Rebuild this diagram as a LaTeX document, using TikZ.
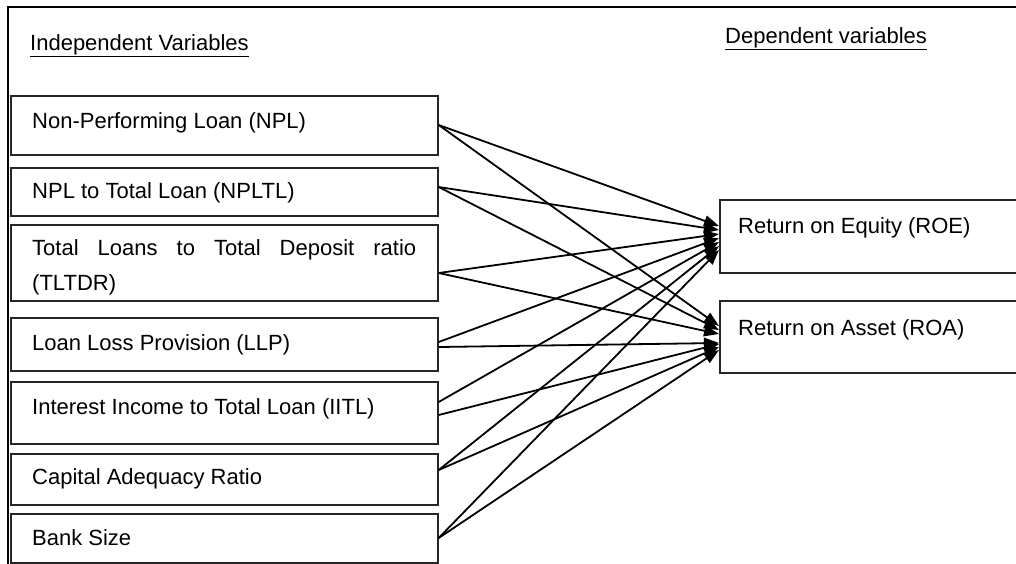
\documentclass[tikz,border=0pt]{standalone}
\usepackage{fontspec}
\setmainfont{Liberation Sans}
\usetikzlibrary{arrows.meta}
\begin{document}
\begin{tikzpicture}[x=1pt,y=-1pt,
  box/.style={draw=black!85,line width=1.7pt,inner sep=0pt,anchor=north west,rectangle},
  lbl/.style={anchor=base west,inner sep=0pt,font=\fontsize{22}{26}\selectfont},
  arr/.style={line width=1.8pt,-{Triangle[length=15pt,width=11pt]}}]
\useasboundingbox (0,0) rectangle (1016,563);
% frame
\draw[line width=1.5pt] (1030,7) -- (8,7) -- (8,570);
% headers
\node[lbl] (h1) at (30,50) {\underline{Independent Variables}};
\node[lbl] (h2) at (725,43) {\underline{Dependent variables}};
% left boxes
\node[box,minimum width=427pt,minimum height=59pt] (b1) at (10,95) {};
\node[box,minimum width=427pt,minimum height=48pt] (b2) at (10,167) {};
\node[box,minimum width=427pt,minimum height=76pt] (b3) at (10,224) {};
\node[box,minimum width=427pt,minimum height=53pt] (b4) at (10,317) {};
\node[box,minimum width=427pt,minimum height=62pt] (b5) at (10,381) {};
\node[box,minimum width=427pt,minimum height=51pt] (b6) at (10,453) {};
\node[box,minimum width=427pt,minimum height=49pt] (b7) at (10,513) {};
\node[lbl] (t1) at (32,128) {Non-Performing Loan (NPL)};
\node[lbl] (t2) at (32,198) {NPL to Total Loan (NPLTL)};
\node[lbl,align=left] (t3) at (32,255) {\makebox[384pt][s]{Total Loans to Total Deposit ratio}};
\node[lbl] (t3b) at (32,290) {(TLTDR)};
\node[lbl] (t4) at (32,350) {Loan Loss Provision (LLP)};
\node[lbl] (t5) at (32,414) {Interest Income to Total Loan (IITL)};
\node[lbl] (t6) at (32,484) {Capital Adequacy Ratio};
\node[lbl] (t7) at (32,545) {Bank Size};
% right boxes (extend past the right margin)
\node[box,minimum width=310pt,minimum height=73pt] (roe) at (719,199) {};
\node[box,minimum width=310pt,minimum height=72pt] (roa) at (719,300) {};
\node[lbl] (tr1) at (738,233) {Return on Equity (ROE)};
\node[lbl] (tr2) at (738,335) {Return on Asset (ROA)};
% connectors
\draw[arr] (b1.east |- 0,125) -- (roe.west |- 0,226);
\draw[arr] (b1.east |- 0,125) -- (roa.west |- 0,326);
\draw[arr] (b2.east |- 0,187) -- (roe.west |- 0,230);
\draw[arr] (b2.east |- 0,187) -- (roa.west |- 0,330);
\draw[arr] (b3.east |- 0,273) -- (roe.west |- 0,234);
\draw[arr] (b3.east |- 0,273) -- (roa.west |- 0,334);
\draw[arr] (b4.east |- 0,342) -- (roe.west |- 0,238);
\draw[arr] (b4.east |- 0,347) -- (roa.west |- 0,343);
\draw[arr] (b5.east |- 0,402) -- (roe.west |- 0,242);
\draw[arr] (b5.east |- 0,415) -- (roa.west |- 0,344);
\draw[arr] (b6.east |- 0,470) -- (roe.west |- 0,246);
\draw[arr] (b6.east |- 0,470) -- (roa.west |- 0,347);
\draw[arr] (b7.east |- 0,538) -- (roe.west |- 0,250);
\draw[arr] (b7.east |- 0,538) -- (roa.west |- 0,350);
\end{tikzpicture}
\end{document}
